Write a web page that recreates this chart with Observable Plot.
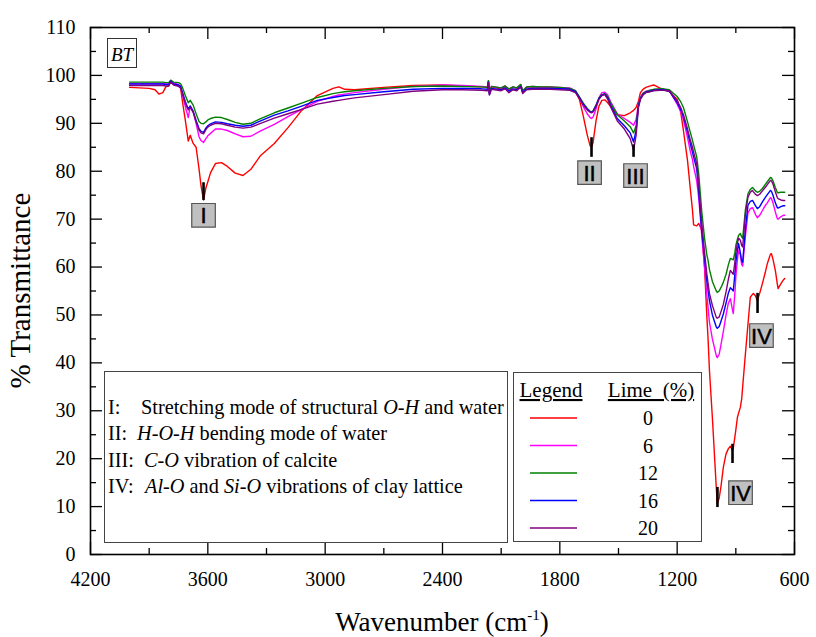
<!DOCTYPE html>
<html><head><meta charset="utf-8">
<script src="https://cdn.jsdelivr.net/npm/d3@7"></script>
<script src="https://cdn.jsdelivr.net/npm/@observablehq/plot@0.6"></script>
<style>body{margin:0;background:#fff}</style>
</head><body><div id="chart"></div>
<script>
// ---- data ----
const limes = [0, 6, 12, 16, 20];
const colors = ["#ff0000", "#ff00ff", "#008000", "#0000ff", "#800080"];
const wavenumber = [4000,3950,3900,3870,3850,3830,3815,3800,3790,3775,3750,3740,3730,3715,3700,3690,3675,3660,3645,3635,3622,3610,3600,3586,3561,3530,3500,3460,3420,3380,3330,3260,3190,3120,3040,2960,2930,2900,2850,2700,2550,2400,2300,2200,2170,2165,2160,2150,2100,2080,2060,2040,2020,2000,1990,1970,1940,1900,1850,1800,1750,1720,1700,1680,1660,1645,1638,1630,1615,1600,1585,1570,1555,1540,1506,1470,1440,1423,1410,1398,1388,1375,1360,1337,1320,1290,1270,1240,1200,1183,1168,1147,1132,1122,1116,1100,1090,1083,1074,1060,1048,1042,1035,1020,1000,995,985,975,964,950,938,928,917,913,905,900,892,886,877,870,865,851,838,826,815,810,800,790,778,764,750,739,723,718,710,698,688,684,670,657,650];
const lime0 = [97.5,97.4,97.3,97.0,96.1,96.4,97.6,97.8,98.9,98.2,97.9,97.6,94.6,90.6,86.3,87.5,85.8,85.0,80.5,77.0,74.0,76.5,77.8,79.7,81.6,81.8,81.0,79.6,79.1,80.4,83.3,85.8,89.1,92.7,95.8,97.3,97.6,97.1,97.0,97.5,97.9,98.0,97.8,97.6,97.5,98.9,96.3,97.6,97.2,97.7,97.0,97.5,97.3,98.0,96.6,97.5,97.6,97.5,97.5,97.4,97.2,96.6,95.0,91.5,87.6,85.3,85.0,86.0,90.5,93.6,94.8,94.9,94.3,93.5,91.8,91.6,92.2,92.7,93.3,94.6,96.4,97.1,97.5,97.8,98.0,97.4,97.0,96.6,95.0,92.7,88.5,82.2,76.0,72.0,68.8,68.6,69.1,68.5,67.6,60.0,49.5,45.0,38.5,28.6,14.0,10.6,11.8,14.5,18.2,21.0,22.1,22.6,21.8,22.2,24.5,26.0,28.6,29.5,30.7,32.5,35.0,41.9,48.0,53.7,54.3,54.5,54.0,53.0,54.5,56.6,58.8,60.7,62.7,62.8,61.6,59.3,56.5,55.5,56.5,57.3,57.6];
const lime6 = [98.3,98.3,98.3,98.3,98.3,98.3,98.2,98.2,98.9,98.4,98.1,97.8,96.0,93.5,91.2,93.6,92.5,90.0,87.2,86.4,86.0,86.8,87.4,87.9,88.8,88.8,88.5,87.8,87.2,87.3,88.4,89.8,91.4,92.9,94.6,95.6,95.9,96.1,96.4,97.1,97.7,98.0,97.9,97.7,97.6,98.8,96.2,97.7,97.4,97.8,97.1,97.6,97.4,98.1,96.8,97.6,97.7,97.6,97.6,97.5,97.4,96.8,95.3,93.5,92.0,91.2,91.0,91.3,93.0,95.3,96.4,96.5,95.9,94.5,92.0,91.0,90.2,89.6,90.8,94.0,95.4,96.3,96.7,96.9,97.0,97.1,97.1,96.8,94.0,92.5,90.8,87.0,84.0,82.5,81.0,78.0,74.5,71.2,66.5,60.0,54.0,51.6,48.5,45.0,41.5,41.1,41.8,44.0,46.5,50.0,52.5,53.4,51.0,50.3,54.5,58.0,61.5,63.5,62.5,60.5,60.2,66.5,71.3,72.2,72.4,72.0,71.0,70.3,70.8,71.8,72.8,73.4,74.5,74.3,73.4,71.5,70.1,70.0,70.5,70.8,70.8];
const lime12 = [98.6,98.6,98.6,98.6,98.6,98.6,98.5,98.5,99.0,98.6,98.5,98.3,97.5,95.8,94.3,94.8,93.8,92.0,90.4,90.0,89.9,90.3,90.7,91.0,91.3,91.2,90.8,90.2,89.8,90.0,91.0,92.2,93.2,94.2,95.4,96.2,96.4,96.6,96.8,97.3,97.7,97.8,97.7,97.6,97.5,98.9,96.3,97.7,97.4,97.8,97.2,97.6,97.4,98.1,96.8,97.6,97.7,97.6,97.6,97.5,97.3,96.8,95.5,94.2,93.1,92.5,92.4,92.6,93.8,95.3,96.0,96.2,95.6,94.2,91.8,90.5,89.3,88.0,89.5,93.8,95.2,96.2,96.6,96.9,97.1,97.2,97.2,97.0,95.6,94.6,93.3,90.3,88.0,86.5,85.5,83.0,79.5,76.0,71.5,66.0,62.5,61.4,59.5,57.0,55.0,54.7,55.0,55.8,56.8,58.5,60.5,61.8,61.6,61.5,63.0,64.5,65.8,66.6,67.0,66.3,66.0,72.0,75.3,76.2,76.6,76.4,75.9,75.6,75.8,76.4,77.2,77.8,78.7,78.6,78.0,76.6,75.6,75.5,75.6,75.6,75.6];
const lime16 = [98.2,98.2,98.2,98.2,98.2,98.2,98.1,98.1,98.8,98.2,98.0,97.7,96.5,94.5,93.0,93.6,92.5,90.6,88.9,88.3,88.1,89.0,89.5,89.9,90.3,90.2,89.9,89.6,89.4,89.6,90.5,91.7,92.6,93.6,94.8,95.4,95.6,95.8,96.0,96.6,97.1,97.3,97.3,97.2,97.1,98.6,96.0,97.3,97.0,97.4,96.7,97.2,97.0,97.7,96.4,97.2,97.3,97.3,97.3,97.2,97.1,96.6,95.4,94.0,93.0,92.4,92.3,92.5,93.7,95.2,95.9,96.1,95.3,93.7,91.0,89.5,88.0,86.1,88.5,93.6,95.1,96.0,96.5,96.7,96.9,97.0,97.0,96.7,94.3,93.0,91.4,88.2,85.6,84.0,83.0,80.5,76.0,72.0,67.5,62.0,57.0,55.1,53.0,50.0,47.5,47.2,47.6,48.8,50.2,52.5,54.6,55.7,55.2,55.0,58.5,61.0,63.5,64.9,63.0,61.3,61.0,68.0,72.9,73.7,73.9,73.6,72.8,72.2,72.6,73.6,74.5,75.1,76.0,75.8,75.0,73.4,72.4,72.3,72.6,72.8,72.8];
const lime20 = [97.9,97.9,97.9,97.9,97.9,97.9,97.8,97.8,98.6,98.0,97.7,97.4,96.2,94.2,92.8,93.3,92.3,90.3,88.6,88.0,87.8,88.7,89.2,89.6,90.0,89.9,89.6,89.2,89.0,89.2,90.0,91.1,92.0,92.9,94.0,94.6,94.8,95.0,95.3,96.0,96.7,97.0,97.0,96.9,96.8,98.5,95.9,97.1,96.8,97.2,96.4,97.0,96.8,97.6,96.2,97.0,97.1,97.1,97.1,97.0,96.9,96.4,95.2,93.8,92.8,92.3,92.2,92.4,93.5,95.0,95.8,96.0,95.0,93.4,90.5,88.8,86.8,84.4,87.5,93.3,95.0,95.9,96.4,96.6,96.8,96.9,96.9,96.8,94.7,93.4,91.8,88.8,86.4,85.0,84.0,81.5,77.5,73.5,69.0,63.0,58.5,56.6,54.5,52.0,49.5,49.3,49.6,50.8,52.2,54.8,57.5,59.3,58.7,58.5,61.0,63.0,65.0,66.0,65.6,64.5,64.2,71.0,74.6,75.6,76.0,75.7,75.2,74.9,75.2,75.9,76.6,77.2,78.1,78.0,77.3,75.7,74.5,74.3,74.0,73.9,73.9];

const xMajor = [4200, 3600, 3000, 2400, 1800, 1200, 600];
const xMinor = [3900, 3300, 2700, 2100, 1500, 900];
const yMajor = [0, 10, 20, 30, 40, 50, 60, 70, 80, 90, 100, 110];
const yMinor = [5, 15, 25, 35, 45, 55, 65, 75, 85, 95, 105];

// band annotations
const annoLabels = ["I", "II", "III", "IV", "IV"];
const annoBoxWn = [3622, 1648, 1413, 769, 876];
const annoBoxT = [70.8, 79.7, 79.1, 45.7, 12.9];
const markWn = [3622, 1638, 1423, 789, 994, 917];
const markTop = [77.6, 87.0, 85.5, 54.5, 14.0, 23.0];
const markBottom = [73.9, 82.9, 82.9, 50.3, 9.8, 19.0];

const bandNotes = [
  ["I:", [["Stretching mode of structural ", false], ["O-H", true], [" and water", false]]],
  ["II:", [["H-O-H", true], [" bending mode of water", false]]],
  ["III:", [["C-O", true], [" vibration of calcite", false]]],
  ["IV:", [["Al-O", true], [" and ", false], ["Si-O", true], [" vibrations of clay lattice", false]]]
];
const noteX = [141, 137, 144, 145];

// ---- build tables ----
const seriesVals = [lime0, lime6, lime12, lime16, lime20];
const rows = [];
limes.forEach((l, i) => seriesVals[i].forEach((t, j) => rows.push({wn: wavenumber[j], t, pct: l})));
const boxes = annoLabels.map((label, i) => ({label, wn: annoBoxWn[i], t: annoBoxT[i]}));
const marks = markWn.map((wn, i) => ({wn, y1: markBottom[i], y2: markTop[i]}));

const W = 816, H = 637, mL = 90, mR = 22, mT = 27, mB = 83;
const pw = W - mL - mR, ph = H - mT - mB;
const serif = "'Liberation Serif','Times New Roman',serif";

const chart = Plot.plot({
  width: W, height: H,
  marginLeft: mL, marginRight: mR, marginTop: mT, marginBottom: mB,
  style: {fontFamily: serif, background: "white", overflow: "visible"},
  x: {domain: [4200, 600]},
  y: {domain: [0, 110]},
  color: {domain: limes, range: colors},
  marks: [
    Plot.line(rows, {x: "wn", y: "t", z: "pct", stroke: "pct", strokeWidth: 1.4}),
    // inward ticks
    Plot.tickX(xMajor, {x: d => d, insetTop: ph - 12, stroke: "black", strokeWidth: 1.3}),
    Plot.tickX(xMinor, {x: d => d, insetTop: ph - 6, stroke: "black", strokeWidth: 1.3}),
    Plot.tickX(xMajor, {x: d => d, insetBottom: ph - 12, stroke: "black", strokeWidth: 1.3}),
    Plot.tickX(xMinor, {x: d => d, insetBottom: ph - 6, stroke: "black", strokeWidth: 1.3}),
    Plot.tickY(yMajor, {y: d => d, insetRight: pw - 12, stroke: "black", strokeWidth: 1.3}),
    Plot.tickY(yMinor, {y: d => d, insetRight: pw - 6, stroke: "black", strokeWidth: 1.3}),
    Plot.tickY(yMajor, {y: d => d, insetLeft: pw - 12, stroke: "black", strokeWidth: 1.3}),
    Plot.tickY(yMinor, {y: d => d, insetLeft: pw - 6, stroke: "black", strokeWidth: 1.3}),
    Plot.axisX(xMajor, {tickSize: 0, tickPadding: 17, fontSize: 20, fontFamily: serif, fill: "black", tickFormat: d => String(d), label: null}),
    Plot.axisY(yMajor, {tickSize: 0, tickPadding: 15, fontSize: 20, fontFamily: serif, fill: "black", tickFormat: d => String(d), label: null}),
    Plot.frame({stroke: "black", strokeWidth: 1.6}),
    // band markers
    Plot.ruleX(marks, {x: "wn", y1: "y1", y2: "y2", stroke: "black", strokeWidth: 2.6}),
    Plot.dot(boxes, {x: "wn", y: "t", symbol: "square", r: 13.3, fill: "#c0c0c0", stroke: "#555", strokeWidth: 1.2}),
    Plot.text(boxes, {x: "wn", y: "t", text: "label", fontFamily: "'Liberation Sans',Arial,sans-serif", fontSize: 22, fill: "black", stroke: "black", strokeWidth: 0.5, dy: 1})
  ]
});

const svg = d3.select(chart);
const T = (sel) => sel.style("font-family", serif).attr("fill", "black");

// axis titles
const xt = T(svg.append("text")).attr("x", mL + pw / 2).attr("y", 631).attr("text-anchor", "middle").style("font-size", "27px");
xt.append("tspan").text("Wavenumber (cm");
xt.append("tspan").attr("dy", -11).style("font-size", "15px").text("-1");
xt.append("tspan").attr("dy", 11).text(")");

T(svg.append("text")).attr("transform", `translate(30,${mT + ph / 2}) rotate(-90)`).attr("text-anchor", "middle")
  .style("font-size", "29px").text("% Transmittance");

// BT label
svg.append("rect").attr("x", 107.5).attr("y", 38.5).attr("width", 29).attr("height", 29)
  .attr("fill", "white").attr("stroke", "#333").attr("stroke-width", 1);
T(svg.append("text")).attr("x", 122).attr("y", 61).attr("text-anchor", "middle")
  .style("font-size", "19px").style("font-style", "italic").text("BT");

// band note box
svg.append("rect").attr("x", 104.5).attr("y", 371.5).attr("width", 403).attr("height", 171)
  .attr("fill", "white").attr("stroke", "#444").attr("stroke-width", 1);
bandNotes.forEach(([num, parts], i) => {
  const y = 414 + i * 26.3;
  T(svg.append("text")).attr("x", 108).attr("y", y).attr("text-anchor", "start").style("font-size", "20.3px").text(num);
  const t = T(svg.append("text")).attr("x", noteX[i]).attr("y", y).attr("text-anchor", "start").style("font-size", "20.3px");
  parts.forEach(([s, it]) => t.append("tspan").style("font-style", it ? "italic" : "normal").style("white-space", "pre").text(s));
});

// colour legend box
svg.append("rect").attr("x", 513.5).attr("y", 372.5).attr("width", 188).attr("height", 169)
  .attr("fill", "white").attr("stroke", "#444").attr("stroke-width", 1);
T(svg.append("text")).attr("x", 551).attr("y", 397).attr("text-anchor", "middle")
  .style("font-size", "21px").style("text-decoration", "underline").text("Legend");
T(svg.append("text")).attr("x", 651).attr("y", 397).attr("text-anchor", "middle")
  .style("font-size", "21px").style("text-decoration", "underline").style("white-space", "pre").text("Lime  (%)");
limes.forEach((l, i) => {
  const y = 418 + i * 27.5;
  svg.append("line").attr("x1", 530).attr("x2", 577).attr("y1", y).attr("y2", y)
    .attr("stroke", colors[i]).attr("stroke-width", 1.5);
  T(svg.append("text")).attr("x", 648).attr("y", y + 7).attr("text-anchor", "middle")
    .style("font-size", "20px").text(String(l));
});

document.getElementById("chart").appendChild(chart);
</script></body></html>
